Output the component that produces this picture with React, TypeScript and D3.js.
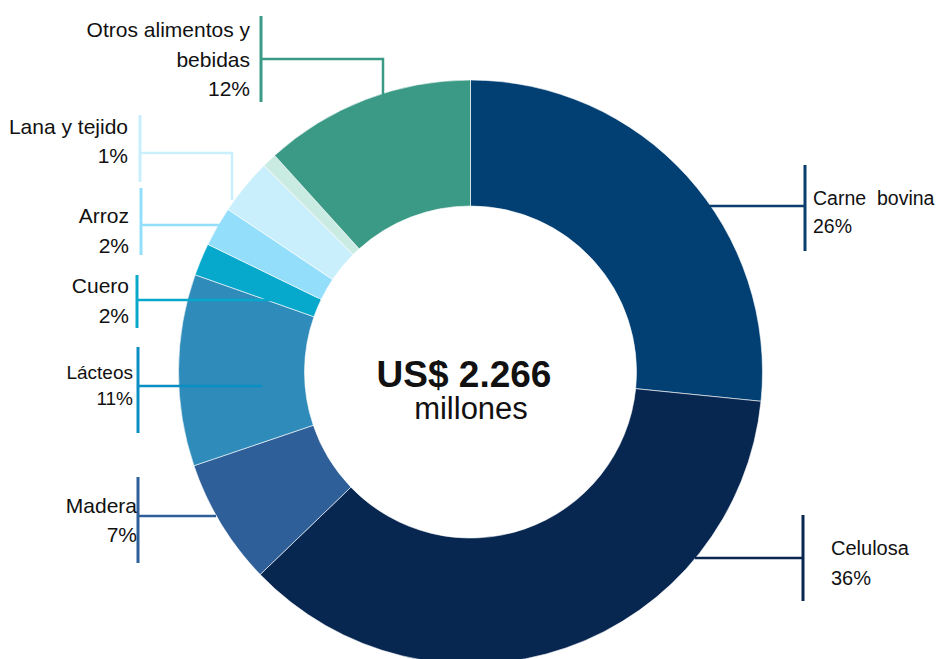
import { useEffect, useRef } from "react";
import * as d3 from "d3";

// sectors, clockwise from 12 o'clock
const categories = [
  "Carne bovina",
  "Celulosa",
  "Madera",
  "Lácteos",
  "Cuero",
  "Arroz",
  "Lana y tejido",
  "Otros",
  "Otros alimentos y bebidas",
];
// share of exports (%)
const shares = [26.6, 36.2, 7.0, 10.6, 1.8, 2.2, 3.1, 0.8, 11.7];
// percentages as printed on the labels
const pctLabels = ["26%", "36%", "7%", "11%", "2%", "2%", "1%", "", "12%"];
const colors = [
  "#023f73",
  "#072650",
  "#2e5f98",
  "#2e8bba",
  "#06a9cc",
  "#93defb",
  "#caeffc",
  "#c9ebe1",
  "#3a9a86",
];
const totalLabel = "US$ 2.266";
const totalUnit = "millones";

// label placement (layout only)
type Callout = {
  idx: number;
  name: string[];
  side: "left" | "right";
  tx: number;
  ty: number; // first baseline
  lh: number;
  fs: number;
  barX: number;
  barY0: number;
  barY1: number;
  lineY: number;
  lineX: number; // end of horizontal leader
  elbowY?: number;
  stroke: string;
};

const callouts: Callout[] = [
  { idx: 0, name: ["Carne  bovina"], side: "right", tx: 813, ty: 205, lh: 28, fs: 19.5, barX: 805, barY0: 165, barY1: 251, lineY: 206, lineX: 706, stroke: "#0b3d6e" },
  { idx: 1, name: ["Celulosa"], side: "right", tx: 831, ty: 555, lh: 30, fs: 20, barX: 803, barY0: 515, barY1: 601, lineY: 558, lineX: 695, stroke: "#0a2750" },
  { idx: 2, name: ["Madera"], side: "left", tx: 137, ty: 513, lh: 29, fs: 21, barX: 138, barY0: 477, barY1: 563, lineY: 516, lineX: 216, stroke: "#2e5f98" },
  { idx: 3, name: ["Lácteos"], side: "left", tx: 133, ty: 379, lh: 26, fs: 19, barX: 138, barY0: 347, barY1: 433, lineY: 386, lineX: 262, stroke: "#0a8fc4" },
  { idx: 4, name: ["Cuero"], side: "left", tx: 129, ty: 293, lh: 30, fs: 21, barX: 137, barY0: 275, barY1: 328, lineY: 300, lineX: 320, stroke: "#08a8cb" },
  { idx: 5, name: ["Arroz"], side: "left", tx: 129, ty: 223, lh: 30, fs: 21, barX: 141, barY0: 188, barY1: 255, lineY: 225, lineX: 220, stroke: "#93defb" },
  { idx: 6, name: ["Lana y tejido"], side: "left", tx: 128, ty: 134, lh: 29, fs: 21, barX: 140, barY0: 115, barY1: 182, lineY: 153, lineX: 232, elbowY: 200, stroke: "#c9eefc" },
  { idx: 8, name: ["Otros alimentos y", "bebidas"], side: "left", tx: 250, ty: 37, lh: 29.5, fs: 21, barX: 261, barY0: 16, barY1: 102, lineY: 59, lineX: 383, elbowY: 97, stroke: "#3a9a86" },
];

const W = 946;
const H = 659;
const FONT = "'Liberation Sans', Arial, sans-serif";

export default function App() {
  const ref = useRef<SVGSVGElement>(null);

  useEffect(() => {
    if (!ref.current) return;
    const svg = d3.select(ref.current);
    svg.selectAll("*").remove();

    const cx = 470.5;
    const cy = 372;
    const outer = 292;
    const inner = 166;

    const pie = d3
      .pie<number>()
      .sort(null)
      .value((d) => d);
    const arcs = pie(shares);
    const arc = d3.arc<d3.PieArcDatum<number>>().innerRadius(inner).outerRadius(outer);

    const g = svg.append("g").attr("transform", `translate(${cx},${cy})`);
    g.selectAll("path")
      .data(arcs)
      .enter()
      .append("path")
      .attr("d", arc)
      .attr("fill", (_, i) => colors[i])
      .attr("stroke", "#ffffff")
      .attr("stroke-width", 0.6)
      .append("title")
      .text((_, i) => categories[i]);

    // callouts
    const cg = svg.append("g");
    callouts.forEach((c) => {
      cg.append("line")
        .attr("x1", c.barX)
        .attr("x2", c.barX)
        .attr("y1", c.barY0)
        .attr("y2", c.barY1)
        .attr("stroke", c.stroke)
        .attr("stroke-width", 3);
      const pts: [number, number][] = [
        [c.barX, c.lineY],
        [c.lineX, c.lineY],
      ];
      if (c.elbowY !== undefined) pts.push([c.lineX, c.elbowY]);
      cg.append("path")
        .attr("d", d3.line()(pts))
        .attr("fill", "none")
        .attr("stroke", c.stroke)
        .attr("stroke-width", 2.5);
      const t = cg
        .append("text")
        .attr("font-family", FONT)
        .attr("font-size", c.fs)
        .attr("fill", "#111")
        .attr("text-anchor", c.side === "left" ? "end" : "start")
        .style("white-space", "pre");
      [...c.name, pctLabels[c.idx]].forEach((ln, k) => {
        t.append("tspan")
          .attr("x", c.tx)
          .attr("y", c.ty + k * c.lh)
          .text(ln);
      });
    });

    // center label
    svg.append("text")
      .attr("x", 464)
      .attr("y", 387)
      .attr("text-anchor", "middle")
      .attr("font-family", FONT)
      .attr("font-weight", 700)
      .attr("font-size", 37)
      .attr("fill", "#111")
      .text(totalLabel);
    svg.append("text")
      .attr("x", 471)
      .attr("y", 419)
      .attr("text-anchor", "middle")
      .attr("font-family", FONT)
      .attr("font-size", 31)
      .attr("fill", "#111")
      .text(totalUnit);
  }, []);

  return (
    <div style={{ position: "absolute", left: 0, top: 0, width: W, height: H, background: "#fff" }}>
      <svg ref={ref} width={W} height={H} style={{ display: "block" }} />
    </div>
  );
}
